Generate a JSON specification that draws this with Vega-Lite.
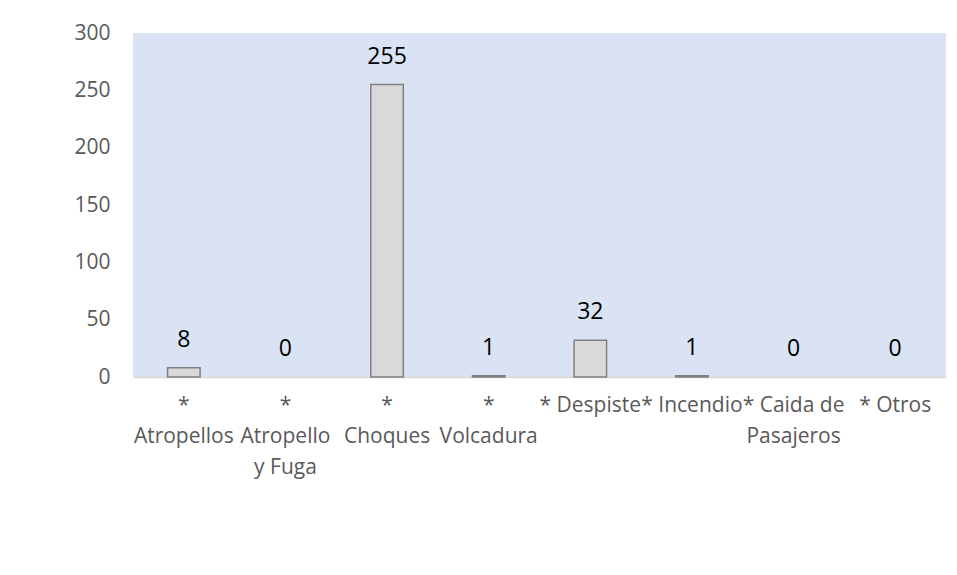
{
  "$schema": "https://vega.github.io/schema/vega-lite/v6.json",
  "width": 813,
  "height": 344,
  "autosize": {"type": "none"},
  "padding": {"left": 133, "top": 33, "right": 11, "bottom": 198},
  "background": "white",
  "config": {
    "view": {"fill": "#DAE3F3", "stroke": null},
    "font": "Open Sans"
  },
  "data": {
    "values": [
      {"tipo": "* Atropellos", "cantidad": 8},
      {"tipo": "* Atropello y Fuga", "cantidad": 0},
      {"tipo": "* Choques", "cantidad": 255},
      {"tipo": "* Volcadura", "cantidad": 1},
      {"tipo": "* Despiste", "cantidad": 32},
      {"tipo": "* Incendio", "cantidad": 1},
      {"tipo": "* Caida de Pasajeros", "cantidad": 0},
      {"tipo": "* Otros", "cantidad": 0}
    ]
  },
  "encoding": {
    "x": {
      "field": "tipo",
      "type": "nominal",
      "sort": null,
      "scale": {"paddingInner": 0.68, "paddingOuter": 0.34},
      "axis": {
        "title": null,
        "labelAngle": 0,
        "labelFont": "Open Sans",
        "labelFontSize": 21,
        "labelColor": "#595959",
        "labelPadding": 17,
        "labelLineHeight": 31,
        "labelLimit": 300,
        "labelBaseline": "top",
        "labelOverlap": false,
        "ticks": false,
        "domainColor": "#D9D9D9",
        "domainWidth": 1.5,
        "labelExpr": "datum.value == '* Atropellos' ? ['*', 'Atropellos'] : datum.value == '* Atropello y Fuga' ? ['*', 'Atropello', 'y Fuga'] : datum.value == '* Choques' ? ['*', 'Choques'] : datum.value == '* Volcadura' ? ['*', 'Volcadura'] : datum.value == '* Caida de Pasajeros' ? ['* Caida de', 'Pasajeros'] : datum.value"
      }
    },
    "y": {
      "field": "cantidad",
      "type": "quantitative",
      "scale": {"domain": [0, 300], "nice": false},
      "axis": {
        "title": null,
        "values": [0, 50, 100, 150, 200, 250, 300],
        "grid": false,
        "domain": false,
        "ticks": false,
        "labelFont": "Open Sans",
        "labelFontSize": 21,
        "labelColor": "#595959",
        "labelPadding": 23
      }
    }
  },
  "layer": [
    {
      "mark": {"type": "bar", "fill": "#D9D9D9", "stroke": "#808080", "strokeWidth": 1.5},
      "encoding": {
        "strokeOpacity": {"condition": {"test": "datum.cantidad == 0", "value": 0}, "value": 1}
      }
    },
    {
      "mark": {"type": "text", "baseline": "alphabetic", "dy": -21, "fontSize": 23, "color": "#000000", "font": "Open Sans"},
      "encoding": {"text": {"field": "cantidad", "type": "quantitative"}}
    }
  ]
}
